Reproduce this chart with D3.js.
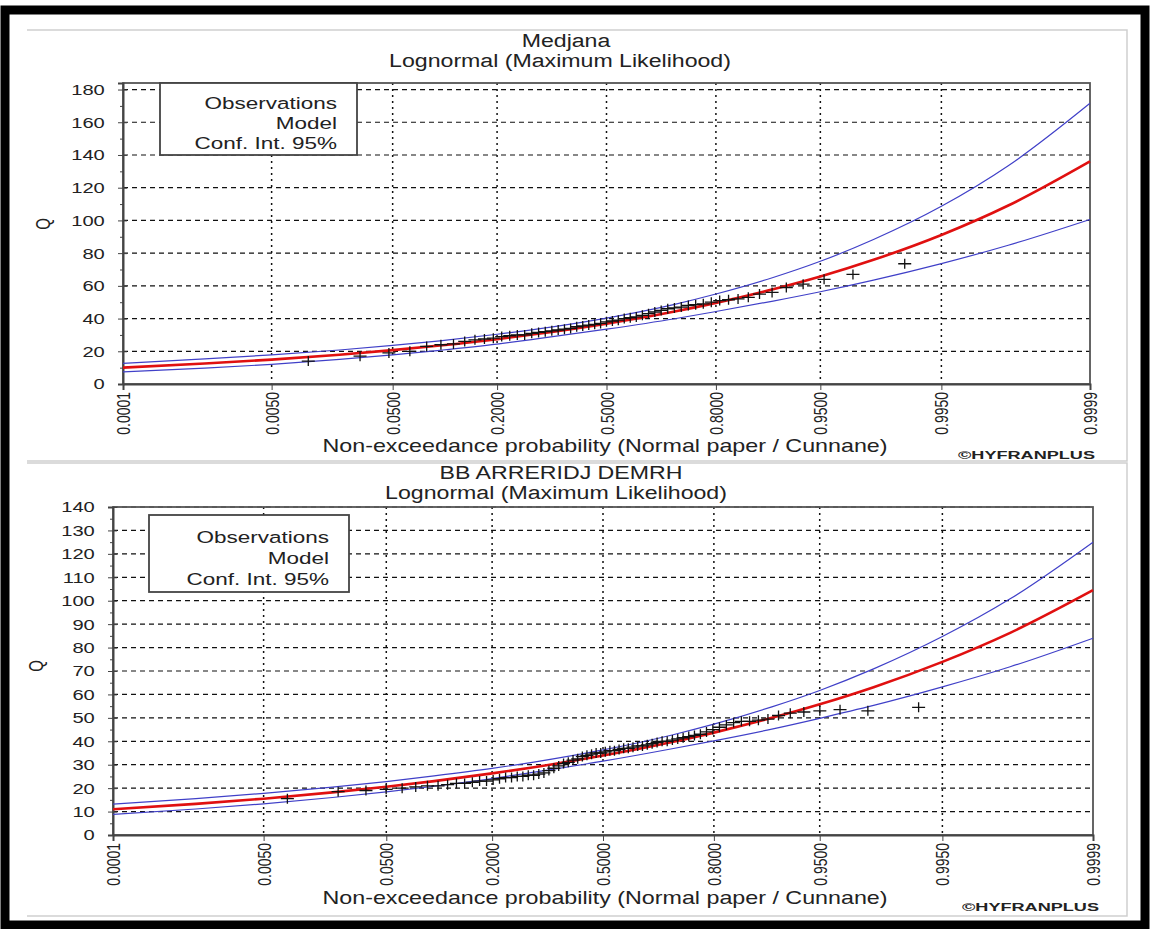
<!DOCTYPE html>
<html>
<head>
<meta charset="utf-8">
<script src="https://cdn.jsdelivr.net/npm/d3@7"></script>
<style>
  body { margin: 0; background: #fff; }
  svg { display: block; }
  text { font-family: "Liberation Sans", Arial, sans-serif; fill: #222; }
</style>
</head>
<body>
<svg id="chart" width="1150" height="929"></svg>
<script>
// probability ticks of the normal paper axis
const probTicks = [0.0001, 0.005, 0.05, 0.2, 0.5, 0.8, 0.95, 0.995, 0.9999];
const probLabels = ["0.0001", "0.0050", "0.0500", "0.2000", "0.5000", "0.8000", "0.9500", "0.9950", "0.9999"];
const legendLabels = ["Observations", "Model", "Conf. Int. 95%"];

// probabilities where the model and confidence curves were read
const curveProbs = [0.0001, 0.001, 0.005, 0.02, 0.05, 0.1, 0.2, 0.3, 0.5, 0.7, 0.8, 0.9, 0.95, 0.98, 0.995, 0.999, 0.9999];

// --- Medjana ---
const medjanaObsP = [0.0109, 0.0290, 0.0471, 0.0652, 0.0833, 0.1014, 0.1196, 0.1377, 0.1558, 0.1739,
  0.1920, 0.2101, 0.2283, 0.2464, 0.2645, 0.2826, 0.3007, 0.3188, 0.3370, 0.3551,
  0.3732, 0.3913, 0.4094, 0.4275, 0.4457, 0.4638, 0.4819, 0.5000, 0.5181, 0.5362,
  0.5543, 0.5725, 0.5906, 0.6087, 0.6268, 0.6449, 0.6630, 0.6812, 0.6993, 0.7174,
  0.7355, 0.7536, 0.7717, 0.7899, 0.8080, 0.8261, 0.8442, 0.8623, 0.8804, 0.8986,
  0.9167, 0.9348, 0.9529, 0.9710, 0.9891];
const medjanaObsQ = [14, 17, 19, 20, 23, 24, 24.5, 26, 27, 27.5,
  28, 29, 29.5, 30, 30, 31, 31.5, 32, 32.5, 33,
  33.5, 34, 35, 35.5, 36, 36.5, 37, 38, 38.5, 39,
  40, 40.5, 41, 42, 43, 44, 45, 46, 46.5, 47,
  48, 48.5, 49, 50, 51, 51.5, 52, 53, 55, 56,
  59, 61, 64, 67, 73.5];
const medjanaModel = [10.0, 12.5, 14.9, 17.9, 20.7, 23.5, 27.4, 30.7, 36.9, 44.3, 49.6, 57.9, 65.7, 75.9, 91.1, 109.1, 136.1];
const medjanaUpper = [12.6, 15.3, 17.8, 20.8, 23.6, 26.4, 30.4, 33.7, 40.3, 48.7, 55.0, 65.1, 75.0, 88.3, 108.6, 133.4, 171.6];
const medjanaLower = [7.4, 9.7, 12.0, 15.0, 17.8, 20.6, 24.4, 27.7, 33.5, 39.9, 44.3, 50.7, 56.4, 63.5, 73.6, 84.8, 100.6];
const medjanaYTicks = [0, 20, 40, 60, 80, 100, 120, 140, 160, 180];
const medjanaYMinor = [10, 30, 50, 70, 90, 110, 130, 150, 170];

// --- BB Arreridj Demrh ---
const bbaObsP = [0.0083, 0.0222, 0.0360, 0.0499, 0.0637, 0.0776, 0.0914, 0.1053, 0.1191, 0.1330,
  0.1468, 0.1607, 0.1745, 0.1884, 0.2022, 0.2161, 0.2299, 0.2438, 0.2576, 0.2715,
  0.2853, 0.2992, 0.3130, 0.3269, 0.3407, 0.3546, 0.3684, 0.3823, 0.3961, 0.4100,
  0.4238, 0.4377, 0.4515, 0.4654, 0.4792, 0.4931, 0.5069, 0.5208, 0.5346, 0.5485,
  0.5623, 0.5762, 0.5900, 0.6039, 0.6177, 0.6316, 0.6454, 0.6593, 0.6731, 0.6870,
  0.7008, 0.7147, 0.7285, 0.7424, 0.7562, 0.7701, 0.7839, 0.7978, 0.8116, 0.8255,
  0.8393, 0.8532, 0.8670, 0.8809, 0.8947, 0.9086, 0.9224, 0.9363, 0.9501, 0.9640,
  0.9778, 0.9917];
const bbaObsQ = [15.5, 18.5, 19, 19.5, 20, 20.5, 21, 21, 21.5, 22,
  22, 22.5, 23, 23, 23.5, 24, 24.5, 24.5, 25, 25,
  25.5, 25.5, 26, 26.5, 27.5, 28.5, 29.5, 30.5, 31, 32,
  32.5, 33.5, 34, 34.5, 35, 35, 35.5, 36, 36, 36.5,
  37, 37, 37.5, 38, 38, 38.5, 39, 39.5, 40, 40,
  40.5, 41, 41.5, 42, 42.5, 43, 44, 45, 46, 47,
  48, 48.5, 48.5, 49, 49.5, 51, 52, 52.5, 53, 53.5,
  53, 54.5];
const bbaModel = [11.0, 13.3, 15.5, 18.2, 20.6, 23.0, 26.3, 28.9, 33.9, 39.7, 43.7, 50.0, 55.8, 63.1, 73.9, 86.3, 104.5];
const bbaUpper = [13.2, 15.5, 17.8, 20.4, 22.8, 25.2, 28.4, 31.1, 36.3, 42.7, 47.3, 54.7, 61.7, 70.9, 84.7, 100.8, 125.0];
const bbaLower = [8.8, 11.1, 13.3, 16.0, 18.4, 20.8, 24.1, 26.8, 31.5, 36.8, 40.2, 45.2, 49.8, 55.3, 63.2, 71.8, 84.0];
const bbaYTicks = [0, 10, 20, 30, 40, 50, 60, 70, 80, 90, 100, 110, 120, 130, 140];
const bbaYMinor = [5, 15, 25, 35, 45, 55, 65, 75, 85, 95, 105, 115, 125, 135];

// normal quantile (Acklam) -> normal probability paper
function probit(p) {
  const a = [-39.69683028665376, 220.9460984245205, -275.9285104469687, 138.3577518672690, -30.66479806614716, 2.506628277459239];
  const b = [-54.47609879822406, 161.5858368580409, -155.6989798598866, 66.80131188771972, -13.28068155288572];
  const c = [-0.007784894002430293, -0.3223964580411365, -2.400758277161838, -2.549732539343734, 4.374664141464968, 2.938163982698783];
  const d = [0.007784695709041462, 0.3224671290700398, 2.445134137142996, 3.754408661907416];
  const pl = 0.02425;
  let q, r;
  if (p < pl) {
    q = Math.sqrt(-2 * Math.log(p));
    return (((((c[0]*q+c[1])*q+c[2])*q+c[3])*q+c[4])*q+c[5]) / ((((d[0]*q+d[1])*q+d[2])*q+d[3])*q+1);
  }
  if (p > 1 - pl) {
    q = Math.sqrt(-2 * Math.log(1 - p));
    return -(((((c[0]*q+c[1])*q+c[2])*q+c[3])*q+c[4])*q+c[5]) / ((((d[0]*q+d[1])*q+d[2])*q+d[3])*q+1);
  }
  q = p - 0.5; r = q * q;
  return (((((a[0]*r+a[1])*r+a[2])*r+a[3])*r+a[4])*r+a[5])*q / (((((b[0]*r+b[1])*r+b[2])*r+b[3])*r+b[4])*r+1);
}

const SX = 1.3; // the screenshot is stretched horizontally
const svg = d3.select("#chart");

// black outer border
svg.append("rect").attr("x", 5).attr("y", 10).attr("width", 1140).attr("height", 915)
  .attr("fill", "none").attr("stroke", "#000").attr("stroke-width", 9);

function stretchedText(g, x, y, str, size, anchor, weight) {
  return g.append("text")
    .attr("transform", `translate(${x},${y}) scale(${SX},1)`)
    .attr("text-anchor", anchor || "middle")
    .style("font-size", size + "px")
    .style("font-weight", weight || "normal")
    .text(str);
}

function drawPanel(cfg) {
  const g = svg.append("g");

  // panel frame of the screenshot
  g.append("path")
    .attr("d", `M27,${cfg.panelTop}H1127V${cfg.panelBottom}H27`)
    .attr("fill", "none").attr("stroke", "#cfcfcf").attr("stroke-width", 1.5);

  const x = d3.scaleLinear()
    .domain([probit(probTicks[0]), probit(probTicks[probTicks.length - 1])])
    .range([cfg.x0, cfg.x1]);
  const y = d3.scaleLinear().domain([0, cfg.yMax]).range([cfg.yBottom, cfg.yTop]);
  const px = p => x(probit(p));

  // grid
  g.append("g").selectAll("line").data(cfg.yTicks.slice(1)).join("line")
    .attr("x1", cfg.x0).attr("x2", cfg.x1)
    .attr("y1", d => y(d)).attr("y2", d => y(d))
    .attr("stroke", "#111").attr("stroke-width", 1.2).attr("stroke-dasharray", "5,4");
  g.append("g").selectAll("line").data(probTicks.slice(1, -1)).join("line")
    .attr("x1", d => px(d)).attr("x2", d => px(d))
    .attr("y1", cfg.yTop).attr("y2", cfg.yBottom)
    .attr("stroke", "#111").attr("stroke-width", 1.5).attr("stroke-dasharray", "2,4");

  // plot frame
  g.append("rect").attr("x", cfg.x0).attr("y", cfg.yTop)
    .attr("width", cfg.x1 - cfg.x0).attr("height", cfg.yBottom - cfg.yTop)
    .attr("fill", "none").attr("stroke", "#555").attr("stroke-width", 1.8);

  // y axis, major ticks crossing the axis
  const yAxis = g.append("g").attr("transform", `translate(${cfg.x0},0)`)
    .call(d3.axisLeft(y).tickValues(cfg.yTicks).tickSize(5).tickPadding(9));
  yAxis.select(".domain").attr("stroke", "#444").attr("stroke-width", 2);
  yAxis.selectAll(".tick line").attr("stroke", "#444");
  yAxis.selectAll("text")
    .attr("transform", `scale(${SX},1)`)
    .style("font-size", "15.5px").attr("fill", "#222");
  const yRight = g.append("g").attr("transform", `translate(${cfg.x0},0)`)
    .call(d3.axisRight(y).tickValues(cfg.yTicks).tickSize(4).tickFormat(""));
  yRight.select(".domain").remove();
  yRight.selectAll(".tick line").attr("stroke", "#444");
  const yMinor = g.append("g").attr("transform", `translate(${cfg.x0},0)`)
    .call(d3.axisLeft(y).tickValues(cfg.yMinor).tickSize(3).tickFormat(""));
  yMinor.select(".domain").remove();
  yMinor.selectAll(".tick line").attr("stroke", "#444");

  // x axis on normal probability paper
  const xAxis = g.append("g").attr("transform", `translate(0,${cfg.yBottom})`)
    .call(d3.axisBottom(x).tickValues(probTicks.map(probit)).tickSize(6)
      .tickFormat((d, i) => probLabels[i]));
  xAxis.select(".domain").attr("stroke", "#444").attr("stroke-width", 2);
  xAxis.selectAll(".tick line").attr("stroke", "#444");
  xAxis.selectAll("text")
    .attr("transform", `scale(${SX},1) rotate(-90)`)
    .attr("x", -8).attr("y", 0).attr("dy", "0.36em")
    .attr("text-anchor", "end")
    .style("font-size", "14px").attr("fill", "#222");

  // curves
  const line = d3.line().x(d => px(d[0])).y(d => y(d[1])).curve(d3.curveMonotoneX);
  const clipId = "clip" + cfg.id;
  g.append("clipPath").attr("id", clipId).append("rect")
    .attr("x", cfg.x0).attr("y", cfg.yTop - 2).attr("width", cfg.x1 - cfg.x0 + 1).attr("height", cfg.yBottom - cfg.yTop + 2);
  const curves = g.append("g").attr("clip-path", `url(#${clipId})`);
  [cfg.upper, cfg.lower].forEach(vals => {
    curves.append("path").datum(curveProbs.map((p, i) => [p, vals[i]]))
      .attr("d", line).attr("fill", "none").attr("stroke", "#4040c8").attr("stroke-width", 1.2);
  });
  curves.append("path").datum(curveProbs.map((p, i) => [p, cfg.model[i]]))
    .attr("d", line).attr("fill", "none").attr("stroke", "#e01010").attr("stroke-width", 2.6);

  // observations
  g.append("g").selectAll("path").data(cfg.obsP.map((p, i) => [p, cfg.obsQ[i]])).join("path")
    .attr("d", d => {
      const cx = px(d[0]), cy = y(d[1]);
      return `M${cx - 6.5},${cy}H${cx + 6.5}M${cx},${cy - 5}V${cy + 5}`;
    })
    .attr("stroke", "#111").attr("stroke-width", 1.3).attr("fill", "none");

  // legend
  g.append("rect").attr("x", cfg.legend[0]).attr("y", cfg.legend[1])
    .attr("width", cfg.legend[2]).attr("height", cfg.legend[3])
    .attr("fill", "#fff").attr("stroke", "#444").attr("stroke-width", 1.8);
  legendLabels.forEach((t, i) => {
    stretchedText(g, cfg.legend[0] + cfg.legend[2] - 20, cfg.legendBase + i * cfg.legendStep, t, 17.3, "end");
  });

  // titles
  stretchedText(g, cfg.titleX, cfg.titleY, cfg.title, 17.8);
  stretchedText(g, cfg.subX, cfg.titleY + 20, "Lognormal (Maximum Likelihood)", 17.8);
  stretchedText(g, 605, cfg.xTitleY, "Non-exceedance probability (Normal paper / Cunnane)", 17.9);
  g.append("text")
    .attr("transform", `translate(${cfg.yLabel[0]},${cfg.yLabel[1]}) scale(${SX},1) rotate(-90)`)
    .attr("text-anchor", "middle").style("font-size", "15px").text("Q");
  g.append("text").attr("x", cfg.copyX).attr("y", cfg.xTitleY + 7)
    .attr("textLength", 137).attr("lengthAdjust", "spacingAndGlyphs")
    .style("font-size", "11px").style("font-weight", "bold").attr("fill", "#444")
    .text("©HYFRANPLUS");
}

drawPanel({
  id: "top", panelTop: 30, panelBottom: 461,
  x0: 123, x1: 1090, yTop: 83, yBottom: 384, yMax: 184,
  yTicks: medjanaYTicks, yMinor: medjanaYMinor,
  obsP: medjanaObsP, obsQ: medjanaObsQ,
  model: medjanaModel, upper: medjanaUpper, lower: medjanaLower,
  legend: [160, 83, 197, 72], legendBase: 109, legendStep: 20,
  title: "Medjana", titleX: 566, subX: 560, titleY: 47, xTitleY: 452,
  yLabel: [50, 224], copyX: 958
});

drawPanel({
  id: "bot", panelTop: 463, panelBottom: 916,
  x0: 113, x1: 1093, yTop: 507, yBottom: 835, yMax: 140,
  yTicks: bbaYTicks, yMinor: bbaYMinor,
  obsP: bbaObsP, obsQ: bbaObsQ,
  model: bbaModel, upper: bbaUpper, lower: bbaLower,
  legend: [149, 515, 200, 77], legendBase: 543, legendStep: 21,
  title: "BB ARRERIDJ DEMRH", titleX: 561, subX: 556, titleY: 479, xTitleY: 904,
  yLabel: [43, 666], copyX: 962
});
</script>
</body>
</html>
